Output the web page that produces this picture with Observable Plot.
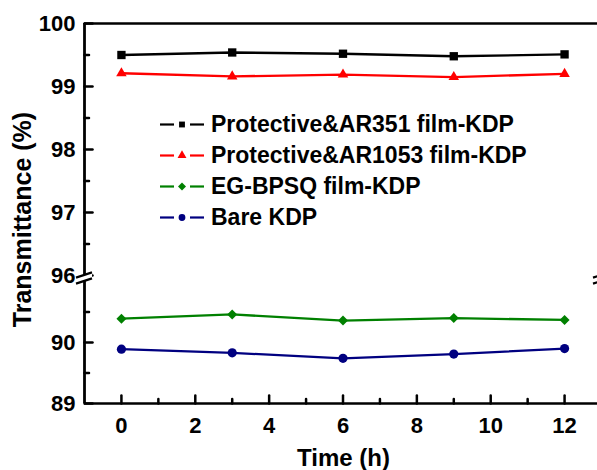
<!DOCTYPE html>
<html><head><meta charset="utf-8">
<script src="https://cdn.jsdelivr.net/npm/d3@7"></script>
<script src="https://cdn.jsdelivr.net/npm/@observablehq/plot@0.6"></script>
<style>
html,body{margin:0;padding:0;background:#fff;overflow:hidden;}
#wrap{position:relative;width:597px;height:470px;}
#legend{position:absolute;left:157px;top:109px;font:bold 23px "Liberation Sans",Arial,sans-serif;color:#000;}
.row{display:flex;align-items:center;height:31px;white-space:nowrap;}
.row svg{display:block;margin-right:4px;}
</style></head><body><div id="wrap"><div id="legend"></div></div>
<script>
const times = [0, 3, 6, 9, 12];
const seriesNames = ["Protective&AR351 film-KDP", "Protective&AR1053 film-KDP", "EG-BPSQ film-KDP", "Bare KDP"];
const ar351 = [99.50, 99.54, 99.52, 99.48, 99.51];
const ar1053 = [99.21, 99.16, 99.19, 99.15, 99.20];
const egbpsq = [90.39, 90.46, 90.36, 90.40, 90.37];
const bare = [89.89, 89.83, 89.74, 89.81, 89.90];
const colors = ["#000000", "#ff0000", "#008000", "#000080"];
const symbols = ["square", "triangle", "diamond2", "circle"];
const dotR = [4.7, 3.9, 4.5, 4.6];
const legendR = [3.3, 3.3, 3.6, 3.4];
const yMajor = [89, 90, 96, 97, 98, 99, 100];
const yMinor = [89.5, 90.5, 96.5, 97.5, 98.5, 99.5];
const xMajor = [0, 2, 4, 6, 8, 10, 12];
const xMinor = [1, 3, 5, 7, 9, 11];
const ySegments = [[89, 91], [96, 100]];
const xLabel = "Time (h)";
const yLabel = "Transmittance (%)";

const valuesBySeries = [ar351, ar1053, egbpsq, bare];
const data = [];
seriesNames.forEach((name, i) => times.forEach((t, j) => data.push({series: name, time: t, value: valuesBySeries[i][j], r: dotR[i]})));

const tickShape = {draw(ctx, l) { ctx.moveTo(0, 0); ctx.lineTo(0, -l); }};
const FONT = "'Liberation Sans', Arial, Helvetica, sans-serif";

const chart = Plot.plot({
  width: 597, height: 470,
  marginLeft: 84, marginRight: 0, marginTop: 23, marginBottom: 67,
  style: {fontFamily: FONT, fontWeight: "bold", background: "#fff", color: "#000"},
  x: {domain: [-1, 13], range: [84, 601]},
  y: {type: "linear", domain: [89, 91, 96, 100], range: [403, 281, 275, 23]},
  color: {domain: seriesNames, range: colors},
  symbol: {domain: seriesNames, range: symbols},
  r: {type: "identity"},
  marks: [
    Plot.ruleY([89, 100], {stroke: "#000", strokeWidth: 2.6}),
    Plot.ruleX(ySegments, {x: () => -1, y1: d => d[0], y2: d => d[1], stroke: "#000", strokeWidth: 2.8}),
    Plot.vector(yMajor, {x: () => -1, y: d => d, length: 8, rotate: 90, anchor: "start", shape: tickShape, stroke: "#000", strokeWidth: 2.5}),
    Plot.vector(yMinor, {x: () => -1, y: d => d, length: 4.5, rotate: 90, anchor: "start", shape: tickShape, stroke: "#000", strokeWidth: 2.5}),
    Plot.vector(xMajor, {x: d => d, y: () => 89, length: 8, rotate: 0, anchor: "start", shape: tickShape, stroke: "#000", strokeWidth: 2.5}),
    Plot.vector(xMinor, {x: d => d, y: () => 89, length: 4.5, rotate: 0, anchor: "start", shape: tickShape, stroke: "#000", strokeWidth: 2.5}),
    Plot.axisY(yMajor, {anchor: "left", tickSize: 0, tickPadding: 9, fontSize: 22, label: null}),
    Plot.axisX(xMajor, {anchor: "bottom", tickSize: 0, tickPadding: 14, fontSize: 22, label: null}),
    Plot.line(data, {x: "time", y: "value", z: "series", stroke: "series", strokeWidth: 2.3}),
    Plot.dot(data, {x: "time", y: "value", fill: "series", symbol: "series", r: "r", stroke: "none"}),
    Plot.text([yLabel], {text: d => d, frameAnchor: "left", textAnchor: "middle", lineAnchor: "middle", rotate: -90, dx: -62, dy: 6, fontSize: 25, fill: "#000"}),
    Plot.text([xLabel], {text: d => d, frameAnchor: "bottom", textAnchor: "middle", lineAnchor: "middle", dx: 2.5, dy: 55, fontSize: 24, fill: "#000"})
  ]
});
document.getElementById("wrap").prepend(chart);

// axis break marks, placed via the chart's scales
const sx = chart.scale("x"), sy = chart.scale("y");
const svg = d3.select(chart);
const yTop = sy.apply(96), yBot = sy.apply(91);
[sx.apply(-1), sx.apply(13)].forEach(x0 => {
  const g = svg.append("g");
  const w = 8, s = 2.6;
  g.append("path")
    .attr("d", `M${x0 - w},${yTop + s} L${x0 + w},${yTop - s} L${x0 + w},${yBot - s} L${x0 - w},${yBot + s} Z`)
    .attr("fill", "#fff");
  [yTop, yBot].forEach(yy => g.append("line")
    .attr("x1", x0 - w).attr("y1", yy + s).attr("x2", x0 + w).attr("y2", yy - s)
    .attr("stroke", "#000").attr("stroke-width", 2.2));
});

// legend
const legend = d3.select("#legend");
seriesNames.forEach((name, i) => {
  const row = legend.append("div").attr("class", "row");
  const s = row.append("svg").attr("width", 50).attr("height", 31);
  s.append("line").attr("x1", 3).attr("x2", 17).attr("y1", 15.5).attr("y2", 15.5).attr("stroke", colors[i]).attr("stroke-width", 2.2);
  s.append("line").attr("x1", 33).attr("x2", 47).attr("y1", 15.5).attr("y2", 15.5).attr("stroke", colors[i]).attr("stroke-width", 2.2);
  const sym = {square: d3.symbolSquare, triangle: d3.symbolTriangle, diamond2: d3.symbolDiamond2, circle: d3.symbolCircle}[symbols[i]];
  s.append("path").attr("transform", "translate(25,15.5)")
    .attr("d", d3.symbol(sym, legendR[i] * legendR[i] * Math.PI)()).attr("fill", colors[i]);
  row.append("span").text(name);
});
</script>
</body></html>
